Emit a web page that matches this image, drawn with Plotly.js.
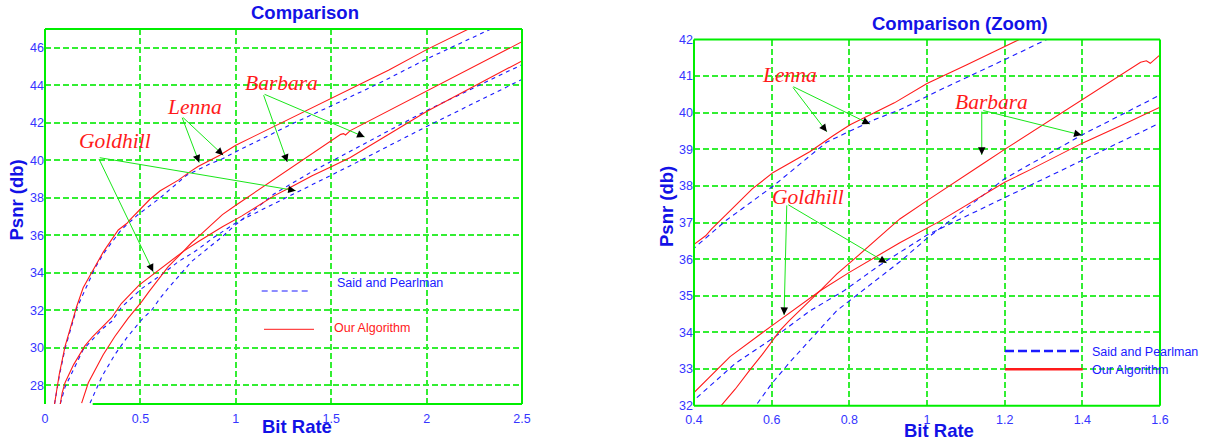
<!DOCTYPE html>
<html><head><meta charset="utf-8">
<script src="https://cdn.plot.ly/plotly-3.0.1.min.js"></script>
<style>html,body{margin:0;padding:0;background:#fff}#chart{width:1207px;height:443px}</style>
</head><body><div id="chart"></div>
<script>
// ---------------- data (bit rate in bpp, PSNR in dB) ----------------
const lennaOursRate = [0.05,0.075,0.105,0.166,0.2,0.262,0.305,0.384,0.43,0.445,0.5,0.55,0.604,0.699,0.759,0.802,0.916,1.0,1.1,1.2,1.265,1.4,1.6,1.8,2.0,2.22,2.3];
const lennaOursPsnr = [27.0,28.6,30.07,32.2,33.2,34.33,35.1,36.28,36.64,36.82,37.4,37.92,38.37,38.94,39.38,39.67,40.27,40.8,41.3,41.8,42.13,42.8,43.8,44.8,45.9,47.0,47.4];

const lennaSPRate = [0.05,0.075,0.105,0.166,0.262,0.305,0.4,0.484,0.604,0.742,0.862,0.93,1.025,1.2,1.318,1.5,1.75,2.0,2.33,2.4];
const lennaSPPsnr = [27.0,28.5,29.95,32.1,34.25,35.0,36.3,37.07,38.0,39.2,39.8,40.08,40.58,41.45,42.05,42.9,44.1,45.4,47.0,47.3];

const goldOursRate = [0.08,0.09,0.105,0.15,0.209,0.25,0.349,0.4,0.493,0.6,0.725,0.8,0.93,1.03,1.2,1.265,1.4,1.5,1.6,2.0,2.5];
const goldOursPsnr = [27.0,27.6,28.13,29.1,30.1,30.6,31.6,32.36,33.34,34.18,35.14,35.64,36.45,37.02,38.1,38.44,39.17,39.65,40.15,42.6,45.3];

const goldSPRate = [0.08,0.105,0.2,0.3,0.349,0.4,0.506,0.611,0.7,0.785,0.88,1.0,1.08,1.2,1.4,1.6,2.0,2.5];
const goldSPPsnr = [27.0,27.9,29.9,31.0,31.4,32.15,33.15,33.9,34.6,35.13,35.85,36.66,37.07,37.68,38.69,39.71,41.8,44.31];

const barbOursRate = [0.192,0.227,0.305,0.366,0.436,0.471,0.506,0.544,0.576,0.621,0.646,0.725,0.768,0.81,0.93,1.0,1.073,1.143,1.2,1.3,1.4,1.492,1.55,1.565,1.575,1.6,2.0,2.5];
const barbOursPsnr = [27.05,28.13,29.63,30.6,31.58,32.0,32.45,32.98,33.4,34.05,34.33,35.14,35.6,35.98,37.1,37.6,38.1,38.6,39.0,39.68,40.37,41.0,41.38,41.42,41.35,41.58,43.7,46.32];

const barbSPRate = [0.236,0.3,0.366,0.43,0.506,0.559,0.6,0.646,0.768,0.93,1.0,1.2,1.4,1.5,1.6,2.0,2.5];
const barbSPPsnr = [27.05,28.5,29.63,30.55,31.49,32.0,32.6,33.18,34.6,35.93,36.57,38.2,39.4,39.95,40.48,42.65,45.1];

const leftXTicks = [0,0.5,1,1.5,2,2.5];
const leftXTickText = ['0','0.5','1','1.5','2','2.5'];
const leftYTicks = [28,30,32,34,36,38,40,42,44,46];
const rightXTicks = [0.4,0.6,0.8,1.0,1.2,1.4,1.6];
const rightXTickText = ['0.4','0.6','0.8','1','1.2','1.4','1.6'];
const rightYTicks = [32,33,34,35,36,37,38,39,40,41,42];

const legendSP = 'Said and Pearlman';
const legendOurs = 'Our Algorithm';
// ---------------------------------------------------------------------

const W = 1207, H = 443;
const pxX = v => v / W, pxY = v => 1 - v / H;
const RED = '#ff1a1a', BLUE = '#1a1aff', GREEN = '#00ee00', TICK = '#3535ff', TITLE = '#1212e6';
const FONT = 'Liberation Sans, Arial, sans-serif';

const series = [
  {r: lennaSPRate, p: lennaSPPsnr, ours: false},
  {r: goldSPRate, p: goldSPPsnr, ours: false},
  {r: barbSPRate, p: barbSPPsnr, ours: false},
  {r: lennaOursRate, p: lennaOursPsnr, ours: true},
  {r: goldOursRate, p: goldOursPsnr, ours: true},
  {r: barbOursRate, p: barbOursPsnr, ours: true}
];
const traces = [];
[['x','y','4px,4px'],['x2','y2','5px,4px']].forEach(([xa, ya, dash]) => {
  series.forEach(s => traces.push({
    x: s.r, y: s.p, xaxis: xa, yaxis: ya, mode: 'lines', showlegend: false, hoverinfo: 'skip',
    line: s.ours ? {color: RED, width: 1.1} : {color: BLUE, width: 1.1, dash: dash}
  }));
});

const pxScale = {x: {x: 477/2.5, y: 375/20}, x2: {x: 466/1.2, y: 366.2/10}};
const annotations = [];
function pointer(xr, yr, tail, tip) {
  const s = pxScale[xr];
  const dx = (tail[0] - tip[0]) * s.x, dy = -(tail[1] - tip[1]) * s.y;
  const L = Math.hypot(dx, dy);
  annotations.push({xref: xr, yref: yr, axref: xr, ayref: yr, x: tip[0], y: tip[1], ax: tail[0], ay: tail[1],
    text: '', showarrow: true, arrowhead: 0, arrowwidth: 1, arrowcolor: '#19e619'});
  annotations.push({xref: xr, yref: yr, x: tip[0], y: tip[1], ax: dx / L * 8, ay: dy / L * 8,
    text: '', showarrow: true, arrowhead: 2, arrowsize: 1.5, arrowwidth: 1, arrowcolor: '#000'});
}
function label(xr, yr, text, pos) {
  annotations.push({xref: xr, yref: yr, x: pos[0], y: pos[1], text: text, showarrow: false,
    font: {family: 'Liberation Serif, Times New Roman, serif', size: 21.5, color: RED, style: 'italic'}});
}
// left chart labels
label('x','y','Lenna',[0.785,42.85]);
pointer('x','y',[0.716,42.35],[0.808,39.88]);
pointer('x','y',[0.716,42.35],[0.934,40.27]);
label('x','y','Barbara',[1.241,44.12]);
pointer('x','y',[1.143,43.55],[1.27,39.91]);
pointer('x','y',[1.143,43.55],[1.675,41.24]);
label('x','y','Goldhill',[0.366,41.04]);
pointer('x','y',[0.279,40.15],[1.314,38.38]);
pointer('x','y',[0.279,40.15],[0.567,34.06]);
// right chart labels
label('x2','y2','Lenna',[0.645,41.02]);
pointer('x2','y2',[0.652,40.73],[0.742,39.48]);
pointer('x2','y2',[0.652,40.73],[0.853,39.69]);
label('x2','y2','Barbara',[1.165,40.28]);
pointer('x2','y2',[1.141,40.07],[1.141,38.85]);
pointer('x2','y2',[1.141,40.07],[1.398,39.39]);
label('x2','y2','Goldhill',[0.694,37.69]);
pointer('x2','y2',[0.639,37.51],[0.632,34.48]);
pointer('x2','y2',[0.639,37.51],[0.896,35.9]);

function paperText(text, x, y, opts) {
  annotations.push(Object.assign({xref: 'paper', yref: 'paper', x: pxX(x), y: pxY(y), text: text, showarrow: false,
    xanchor: 'center', yanchor: 'middle'}, opts));
}
const titleFont = {family: FONT, size: 18.5, color: TITLE, weight: 'bold'};
paperText('<b>Comparison</b>', 305, 12, {font: titleFont});
paperText('<b>Comparison (Zoom)</b>', 960, 23, {font: titleFont});
paperText('<b>Bit Rate</b>', 297, 426, {font: titleFont});
paperText('<b>Bit Rate</b>', 939, 430, {font: titleFont});
paperText('<b>Psnr (db)</b>', 16.5, 200, {font: titleFont, textangle: -90});
paperText('<b>Psnr (db)</b>', 667, 207, {font: titleFont, textangle: -90});
// legends
const legFont = c => ({family: FONT, size: 12.5, color: c});
paperText(legendSP, 335, 283, {xanchor: 'left', font: legFont(BLUE)});
paperText(legendOurs, 331.5, 328, {xanchor: 'left', font: legFont(RED)});
paperText(legendSP, 1090, 352, {xanchor: 'left', font: legFont(BLUE)});
paperText(legendOurs, 1090, 370, {xanchor: 'left', font: legFont(BLUE)});

const shapes = [];
function pline(x0, y0, x1, y1, line) {
  shapes.push({type: 'line', xref: 'paper', yref: 'paper', x0: pxX(x0), y0: pxY(y0), x1: pxX(x1), y1: pxY(y1), line: line, layer: 'above'});
}
pline(261.7, 291, 310, 291, {color: BLUE, width: 1, dash: '6px,4px'});
pline(264, 329.3, 314, 329.3, {color: RED, width: 1});
pline(1005, 351, 1082.7, 351, {color: BLUE, width: 2.5, dash: '9px,4px'});
pline(1005, 369.3, 1082.7, 369.3, {color: RED, width: 2.5});
// axes boxes
function box(xr, yr, bottomStart) {
  const L = {color: GREEN, width: 2};
  const d = (a0, b0, a1, b1) => shapes.push({type: 'line', xref: xr + ' domain', yref: yr + ' domain', x0: a0, y0: b0, x1: a1, y1: b1, line: L, layer: 'above'});
  d(0, 0, 0, 1); d(1, 0, 1, 1); d(0, 1, 1, 1); d(bottomStart, 0, 1, 0);
}
box('x', 'y', 0.1);
box('x2', 'y2', 0);

const axisCommon = {
  showgrid: true, gridcolor: '#33ee33', gridwidth: 2, griddash: '6px,3px', zeroline: false, showline: false,
  ticks: '', tickfont: {family: FONT, size: 12.5, color: TICK}, fixedrange: true
};
const xExtra = {ticklabelstandoff: 5};
const layout = {
  width: W, height: H, margin: {l: 0, r: 0, t: 0, b: 0}, paper_bgcolor: '#fff', plot_bgcolor: '#fff',
  showlegend: false,
  xaxis: Object.assign({}, axisCommon, xExtra, {domain: [pxX(45), pxX(522)], range: [0, 2.5], tickvals: leftXTicks, ticktext: leftXTickText, anchor: 'y'}),
  yaxis: Object.assign({}, axisCommon, {domain: [pxY(404), pxY(29)], range: [27, 47], tickvals: leftYTicks, anchor: 'x'}),
  xaxis2: Object.assign({}, axisCommon, xExtra, {domain: [pxX(694), pxX(1160)], range: [0.4, 1.6], tickvals: rightXTicks, ticktext: rightXTickText, anchor: 'y2'}),
  yaxis2: Object.assign({}, axisCommon, {domain: [pxY(405.7), pxY(39.5)], range: [32, 42], tickvals: rightYTicks, anchor: 'x2'}),
  annotations: annotations, shapes: shapes
};
Plotly.newPlot('chart', traces, layout, {staticPlot: true, displayModeBar: false});
</script></body></html>
